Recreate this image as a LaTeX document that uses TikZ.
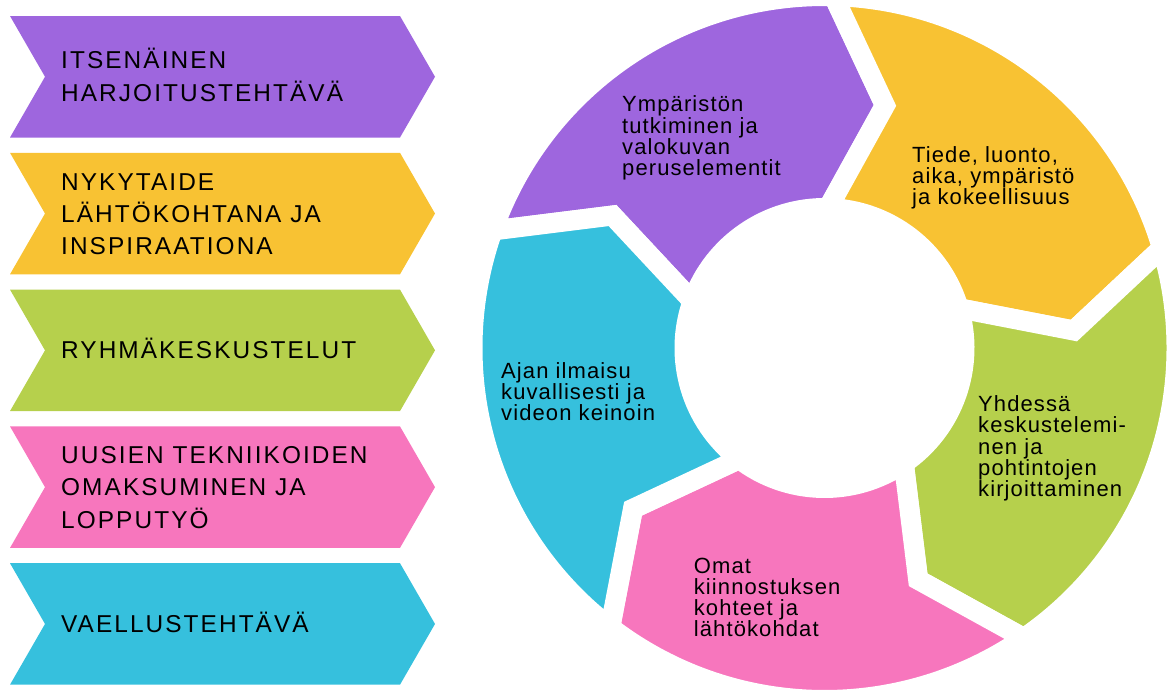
\documentclass[tikz,border=0pt]{standalone}
\usepackage{fontspec}
\setmainfont{Liberation Sans}
\newfontfamily\capsfont[LetterSpace=8.5]{Liberation Sans}
\newfontfamily\cycfont[LetterSpace=5]{Liberation Sans}
\definecolor{cpurple}{HTML}{9E66DE}
\definecolor{cyellow}{HTML}{F8C233}
\definecolor{cgreen}{HTML}{B6D04C}
\definecolor{cpink}{HTML}{F776BD}
\definecolor{ccyan}{HTML}{36C0DD}
\begin{document}
\begin{tikzpicture}[x=1pt,y=-1pt,
  chevtext/.style={anchor=north west,inner sep=0pt,align=left,font={\capsfont\fontsize{24.4}{32.2}\selectfont}},
  cyctext/.style={anchor=north west,inner sep=0pt,align=left,font={\cycfont\fontsize{22}{21.2}\selectfont\lineskiplimit=-30pt}}]
\useasboundingbox (0,0) rectangle (1170,689);

\foreach \y/\c in {16/cpurple,152.8/cyellow,289.6/cgreen,426.4/cpink,563.2/ccyan}
  \fill[\c] (10,\y) -- ++(390,0) -- ++(35,60.75) -- ++(-35,60.75) -- ++(-390,0) -- ++(35,-60.75) -- cycle;

\path (61,48.3) node[chevtext] (ch1) {ITSENÄINEN\\HARJOITUSTEHTÄVÄ};
\path (61,173.2) node[chevtext] (ch2) {NYKYTAIDE\\LÄHTÖKOHTANA JA\\INSPIRAATIONA};
\path (61,338.3) node[chevtext] (ch3) {RYHMÄKESKUSTELUT};
\path (61,446.5) node[chevtext] (ch4) {UUSIEN TEKNIIKOIDEN\\OMAKSUMINEN JA\\LOPPUTYÖ};
\path (61,611.5) node[chevtext] (ch5) {VAELLUSTEHTÄVÄ};

\begin{scope}[shift={(824.5,348)},yscale=-1]
  \foreach \a/\c in {160.5/cpurple,88.5/cyellow,16.5/cgreen,-55.5/cpink,-127.5/ccyan}
    \filldraw[fill=\c,draw=white,line width=20pt]
      (\a:352) arc[start angle=\a,end angle=\a-72,radius=352] -- ({\a-84.5}:250)
      -- ({\a-72}:140) arc[start angle=\a-72,end angle=\a,radius=140] -- ({\a-12.5}:250) -- cycle;
\end{scope}

\path (622,95.7) node[cyctext] (cy1) {Ympäristön\\tutkiminen ja\\valokuvan\\peruselementit};
\path (912,146) node[cyctext] (cy2) {Tiede, luonto,\\aika, ympäristö\\ja kokeellisuus};
\path (978,395.5) node[cyctext] (cy3) {Yhdessä\\keskustelemi-\\nen ja\\pohtintojen\\kirjoittaminen};
\path (693.7,557.7) node[cyctext] (cy4) {Omat\\kiinnostuksen\\kohteet ja\\lähtökohdat};
\path (501,362) node[cyctext] (cy5) {Ajan ilmaisu\\kuvallisesti ja\\videon keinoin};
\end{tikzpicture}
\end{document}
